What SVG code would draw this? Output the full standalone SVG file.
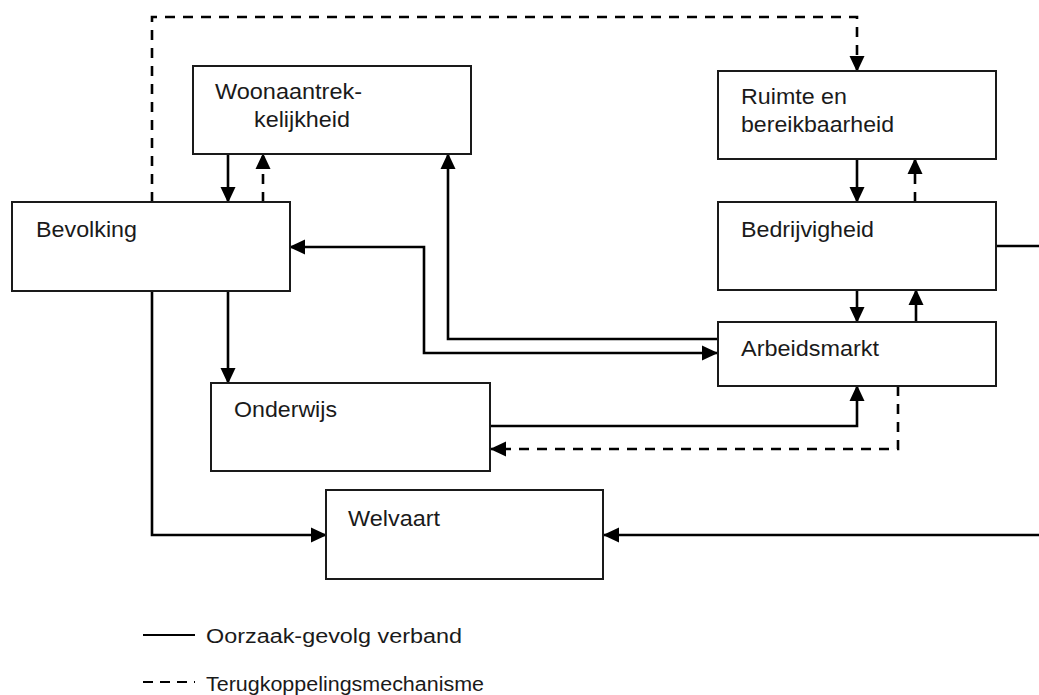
<svg xmlns="http://www.w3.org/2000/svg" width="1039" height="695" viewBox="0 0 1039 695">
<style>
.box{fill:#fff;stroke:#1a1a1a;stroke-width:2}
.t{font-family:"Liberation Sans",Arial,sans-serif;font-size:22px;fill:#1a1a1a}
.lg{font-family:"Liberation Sans",Arial,sans-serif;font-size:20px;fill:#1a1a1a}
.c{fill:none;stroke:#000;stroke-width:2.6}
.d{stroke-dasharray:10 8}
.a{marker-end:url(#ah)}
.ab{marker-start:url(#ah);marker-end:url(#ah)}
</style>
<defs>
<marker id="ah" markerUnits="userSpaceOnUse" markerWidth="16" markerHeight="16" viewBox="0 0 16 16" refX="15" refY="8" orient="auto-start-reverse">
<path d="M0,0.5 L16,8 L0,15.5 Z" fill="#000"/>
</marker>
</defs>
<rect width="1039" height="695" fill="#fff"/>
<g id="connectors">
<path class="c d a" d="M152,202 V17 H857 V71"/>
<path class="c a" d="M228,154 V202"/>
<path class="c d a" d="M263,202 V154"/>
<path class="c a" d="M718,339 H448 V154"/>
<path class="c ab" d="M717,353 H424 V247 H290"/>
<path class="c a" d="M228,291 V383"/>
<path class="c a" d="M152,291 V535 H326"/>
<path class="c a" d="M857,159 V202"/>
<path class="c d a" d="M915,202 V159"/>
<path class="c a" d="M857,290 V322"/>
<path class="c a" d="M916,322 V290"/>
<path class="c a" d="M490,426 H857 V386"/>
<path class="c d a" d="M898,386 V449 H491"/>
<path class="c" d="M996,246 H1039"/>
<path class="c a" d="M1039,535 H604"/>
</g>
<g id="woonaantrekkelijkheid">
<rect class="box" x="193" y="66" width="278" height="88"/>
<text class="t" x="215" y="99" textLength="147" lengthAdjust="spacingAndGlyphs">Woonaantrek-</text>
<text class="t" x="254" y="127" textLength="96" lengthAdjust="spacingAndGlyphs">kelijkheid</text>
</g>
<g id="bevolking">
<rect class="box" x="12" y="202" width="278" height="89"/>
<text class="t" x="36" y="237" textLength="101" lengthAdjust="spacingAndGlyphs">Bevolking</text>
</g>
<g id="ruimte">
<rect class="box" x="718" y="71" width="278" height="88"/>
<text class="t" x="741" y="104" textLength="106" lengthAdjust="spacingAndGlyphs">Ruimte en</text>
<text class="t" x="741" y="132" textLength="153" lengthAdjust="spacingAndGlyphs">bereikbaarheid</text>
</g>
<g id="bedrijvigheid">
<rect class="box" x="718" y="202" width="278" height="88"/>
<text class="t" x="741" y="237" textLength="133" lengthAdjust="spacingAndGlyphs">Bedrijvigheid</text>
</g>
<g id="arbeidsmarkt">
<rect class="box" x="718" y="322" width="278" height="64"/>
<text class="t" x="741" y="356" textLength="138" lengthAdjust="spacingAndGlyphs">Arbeidsmarkt</text>
</g>
<g id="onderwijs">
<rect class="box" x="211" y="383" width="279" height="88"/>
<text class="t" x="234" y="417" textLength="103" lengthAdjust="spacingAndGlyphs">Onderwijs</text>
</g>
<g id="welvaart">
<rect class="box" x="326" y="490" width="277" height="89"/>
<text class="t" x="348" y="526" textLength="92" lengthAdjust="spacingAndGlyphs">Welvaart</text>
</g>
<g id="legend">
<line x1="143" y1="635" x2="195" y2="635" stroke="#000" stroke-width="2"/>
<text class="lg" x="206" y="643" textLength="256" lengthAdjust="spacingAndGlyphs">Oorzaak-gevolg verband</text>
<line x1="143" y1="682" x2="195" y2="682" stroke="#000" stroke-width="2" stroke-dasharray="10 7"/>
<text class="lg" x="206" y="691" textLength="278" lengthAdjust="spacingAndGlyphs">Terugkoppelingsmechanisme</text>
</g>
</svg>
